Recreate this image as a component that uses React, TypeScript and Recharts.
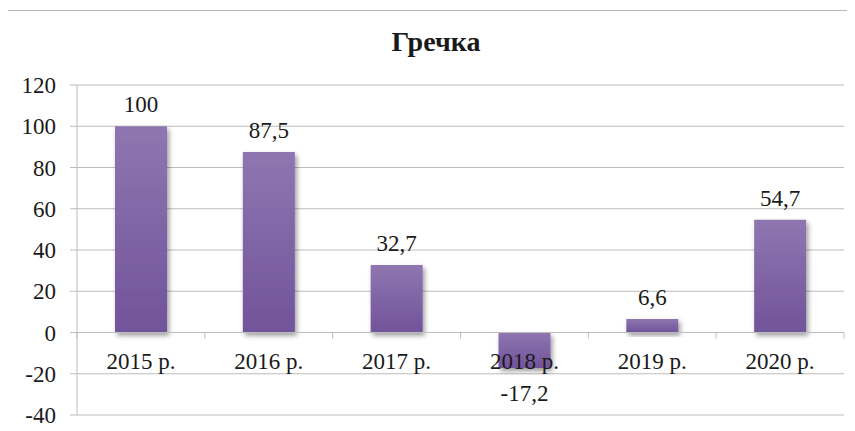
import React from 'react';
import { BarChart, Bar, XAxis, YAxis, CartesianGrid, ReferenceLine, LabelList } from 'recharts';

const years = ['2015 р.', '2016 р.', '2017 р.', '2018 р.', '2019 р.', '2020 р.'];
const values = [100, 87.5, 32.7, -17.2, 6.6, 54.7];
const yTicks = [-40, -20, 0, 20, 40, 60, 80, 100, 120];

const data = years.map((name, i) => ({ name, value: values[i] }));

const W = 855;
const H = 431;
const xAxisHeight = 16;
const margin = { top: 85, right: 11, bottom: 0, left: 17 };
const yAxisWidth = 60;
const yMin = -40;
const yMax = 120;
const plotH = H - margin.top - margin.bottom - xAxisHeight;
const plotW = W - margin.left - margin.right - yAxisWidth;
const zeroY = margin.top + (plotH * (yMax - 0)) / (yMax - yMin);
const band = plotW / years.length;

const font = '"Liberation Serif", "Times New Roman", serif';
const grid = '#bdbdbd';
const textStyle = { fontFamily: font, fontSize: 23 };

const fmt = (v: number) => String(v).replace('.', ',');

const CategoryTick = ({ x, payload, index }: any) => {
  const left = x - band / 2;
  return (
    <g>
      <line x1={left} x2={left} y1={zeroY} y2={zeroY + 6} stroke={grid} />
      {index === years.length - 1 && (
        <line x1={x + band / 2} x2={x + band / 2} y1={zeroY} y2={zeroY + 6} stroke={grid} />
      )}
      <text x={x} y={zeroY + 36} textAnchor="middle" style={textStyle} fill="#1a1a1a">
        {payload.value}
      </text>
    </g>
  );
};

const ValueTickY = ({ x, y, payload }: any) => (
  <text x={x} y={y} dy="0.35em" textAnchor="end" style={textStyle} fill="#1a1a1a">
    {payload.value}
  </text>
);

const ValueLabel = ({ x, y, width, height, value }: any) => {
  const top = Math.min(y, y + height);
  const bottom = Math.max(y, y + height);
  const ty = value < 0 ? bottom + 33 : top - 14;
  return (
    <text x={x + width / 2} y={ty} textAnchor="middle" style={textStyle} fill="#1a1a1a">
      {fmt(value)}
    </text>
  );
};

export default function App() {
  return (
    <div style={{ position: 'relative', margin: -8, width: W, height: H, overflow: 'hidden', background: '#fff' }}>
      <svg width={0} height={0} style={{ position: 'absolute' }}>
        <defs>
          <linearGradient id="barFill" x1="0" y1="0" x2="0" y2="1">
            <stop offset="0%" stopColor="#8f76b0" />
            <stop offset="100%" stopColor="#71539a" />
          </linearGradient>
          <filter id="barShadow" x="-20%" y="-20%" width="150%" height="150%">
            <feDropShadow dx="2" dy="3" stdDeviation="2.5" floodColor="#000" floodOpacity="0.4" />
          </filter>
        </defs>
      </svg>
      <div
        style={{
          position: 'absolute',
          left: 7,
          top: 10,
          width: 870,
          height: 450,
          border: '1.5px solid #b8b8b8',
        }}
      />
      <div
        style={{
          position: 'absolute',
          left: 0,
          width: 872,
          top: 27,
          textAlign: 'center',
          fontFamily: font,
          fontWeight: 'bold',
          fontSize: 28,
          color: '#1a1a1a',
          lineHeight: '30px',
        }}
      >
        Гречка
      </div>
      <div style={{ position: 'absolute', left: 0, top: 0 }}>
        <BarChart width={W} height={H} data={data} margin={margin}>
          <CartesianGrid vertical={false} stroke={grid} strokeWidth={1} />
          <YAxis
            domain={[yMin, yMax]}
            ticks={yTicks}
            width={yAxisWidth}
            interval={0}
            axisLine={{ stroke: grid }}
            tickLine={{ stroke: grid }}
            tickSize={7}
            tickMargin={14}
            tick={<ValueTickY />}
          />
          <XAxis
            dataKey="name"
            height={xAxisHeight}
            axisLine={false}
            tickLine={false}
            interval={0}
            tick={<CategoryTick />}
          />
          <ReferenceLine y={0} stroke={grid} />
          <Bar dataKey="value" barSize={52} fill="url(#barFill)" filter="url(#barShadow)" isAnimationActive={false}>
            <LabelList dataKey="value" content={<ValueLabel />} />
          </Bar>
        </BarChart>
      </div>
    </div>
  );
}
